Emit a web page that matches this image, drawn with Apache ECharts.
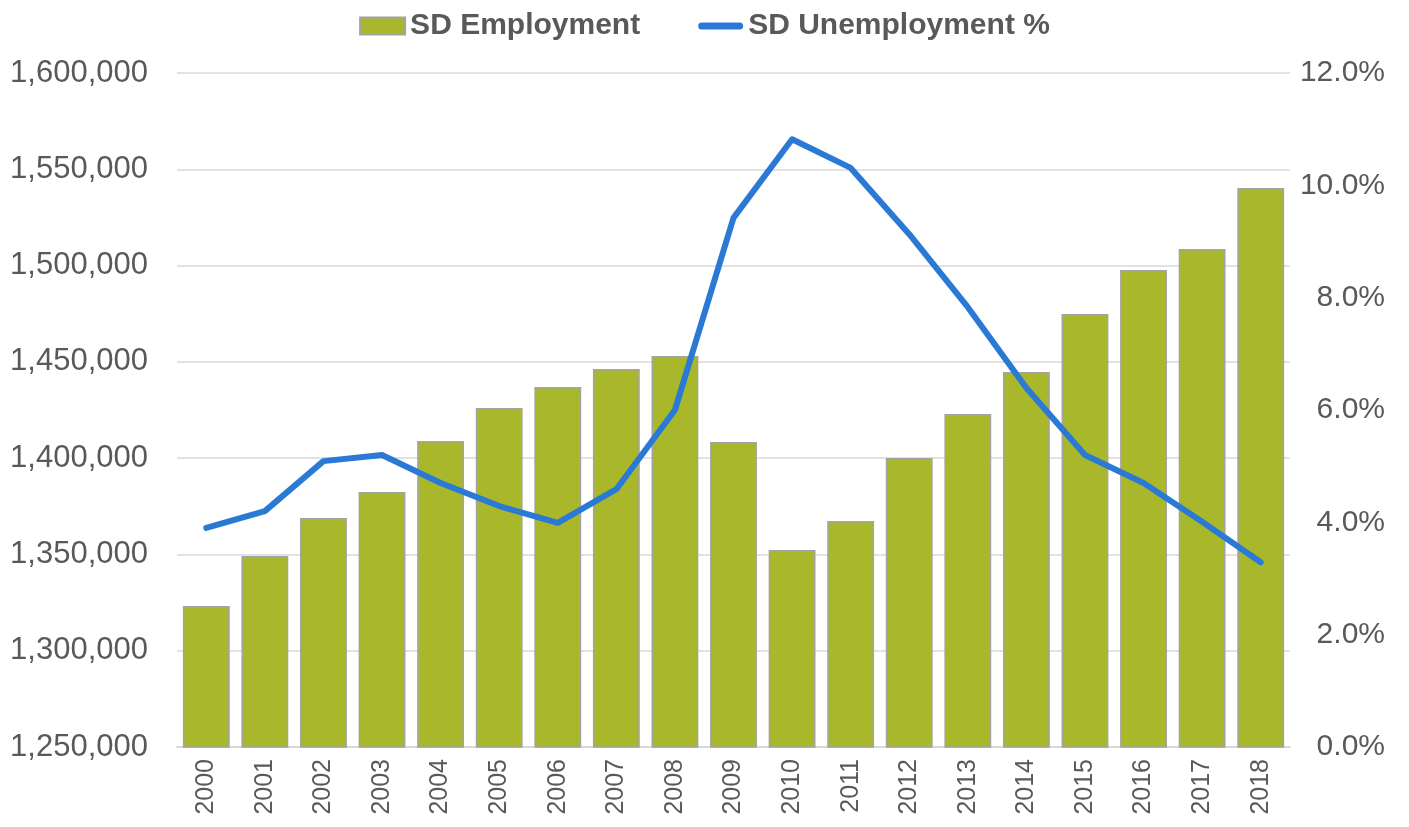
<!DOCTYPE html>
<html>
<head>
<meta charset="utf-8">
<script src="https://cdn.jsdelivr.net/npm/echarts@6/dist/echarts.min.js"></script>
<style>
html,body{margin:0;padding:0;background:#fff;}
#chart{width:1409px;height:827px;}
</style>
</head>
<body>
<div id="chart"></div>
<script>
const years = ['2000','2001','2002','2003','2004','2005','2006','2007','2008','2009','2010','2011','2012','2013','2014','2015','2016','2017','2018'];
const employment = [1323200,1349200,1368900,1382400,1408900,1426000,1436900,1446300,1453000,1408400,1352300,1367400,1400100,1422900,1444700,1474900,1497700,1508600,1540300];
const unemployment = [3.90,4.20,5.09,5.20,4.70,4.29,3.99,4.59,6.00,9.42,10.82,10.31,9.13,7.83,6.39,5.20,4.70,4.01,3.29];

const chart = echarts.init(document.getElementById('chart'));
const txt = '#595959';
const font = 'Liberation Sans, Arial, sans-serif';
chart.setOption({
  animation: false,
  textStyle: {fontFamily: font},
  legend: {
    top: 6,
    left: 'center',
    itemGap: 58,
    itemWidth: 45,
    itemHeight: 17,
    textStyle: {fontSize: 30, fontWeight: 'bold', color: txt, fontFamily: font},
    data: [
      {name: 'SD Employment', icon: 'rect'},
      {name: 'SD Unemployment %', icon: 'path://M3.5,0 L41.5,0 A3.5,3.5 0 0 1 41.5,7 L3.5,7 A3.5,3.5 0 0 1 3.5,0 Z'}
    ]
  },
  grid: {left: 177, right: 119, top: 73, bottom: 80, containLabel: false},
  xAxis: {
    type: 'category',
    data: years,
    axisLine: {lineStyle: {color: '#D9D9D9', width: 2}},
    axisTick: {show: false},
    axisLabel: {rotate: 90, fontSize: 25, color: txt, margin: 12, fontFamily: font}
  },
  yAxis: [
    {
      type: 'value',
      min: 1250000, max: 1600000, interval: 50000,
      axisLine: {show: false}, axisTick: {show: false},
      splitLine: {lineStyle: {color: '#D9D9D9', width: 1.5}},
      axisLabel: {fontSize: 31, color: txt, margin: 29, fontFamily: font,
        formatter: v => v.toLocaleString('en-US')}
    },
    {
      type: 'value',
      min: 0, max: 12, interval: 2,
      axisLine: {show: false}, axisTick: {show: false},
      splitLine: {show: false},
      axisLabel: {fontSize: 30, color: txt, margin: 95, align: 'right', fontFamily: font,
        formatter: v => v.toFixed(1) + '%'}
    }
  ],
  series: [
    {
      name: 'SD Employment',
      type: 'bar',
      data: employment,
      barCategoryGap: '20%',
      itemStyle: {color: '#A9B82B', borderColor: '#A3A3A3', borderWidth: 1.5}
    },
    {
      name: 'SD Unemployment %',
      type: 'line',
      yAxisIndex: 1,
      data: unemployment,
      symbol: 'none',
      lineStyle: {color: '#2A7AD5', width: 6, cap: 'round', join: 'round'},
      itemStyle: {color: '#2A7AD5'}
    }
  ]
});
</script>
</body>
</html>
